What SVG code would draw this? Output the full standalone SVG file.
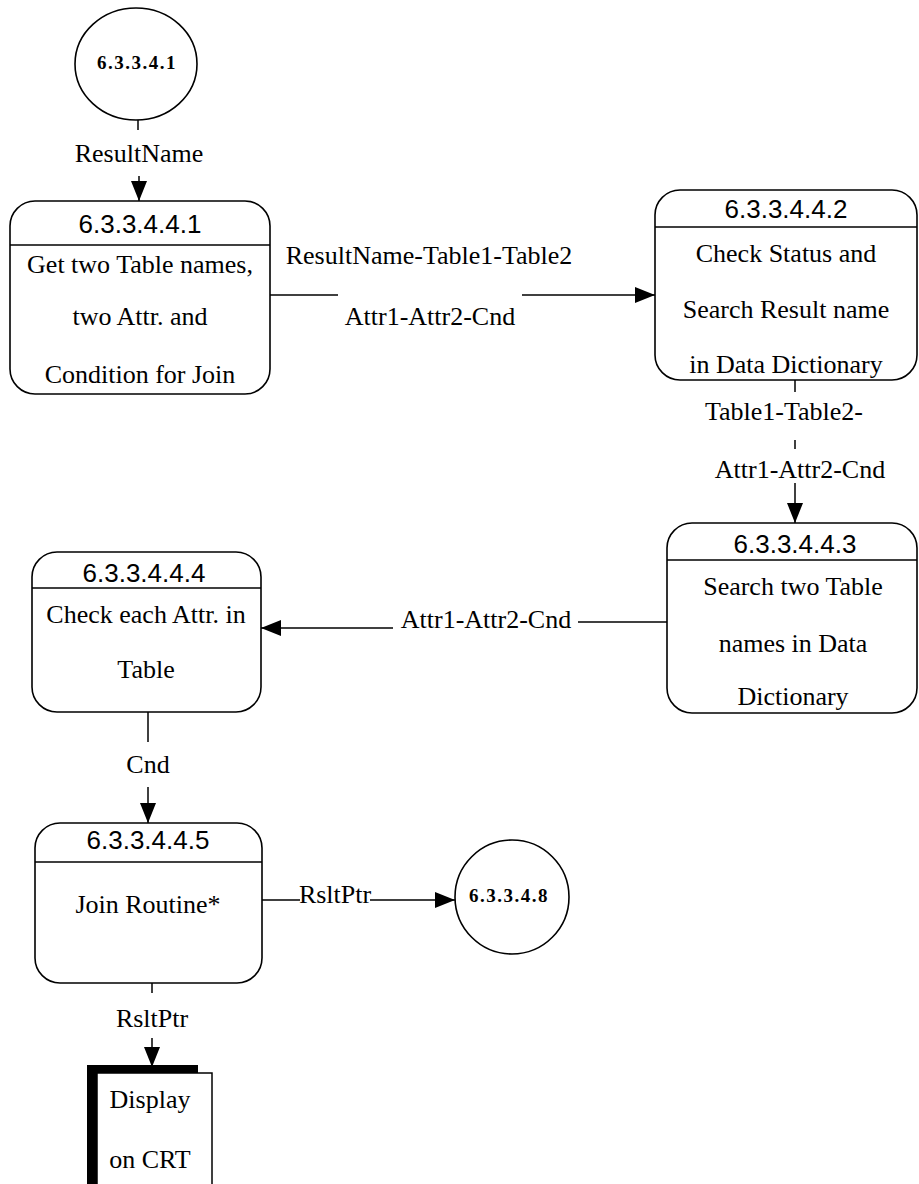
<svg xmlns="http://www.w3.org/2000/svg" width="919" height="1184" viewBox="0 0 919 1184">
<defs>
<style>
.box{fill:#fff;stroke:#000;stroke-width:1.6}
.ln{stroke:#000;stroke-width:1.5;fill:none}
.hd{font-family:"Liberation Sans",Arial,sans-serif;font-size:26px;text-anchor:middle;fill:#000}
.tx{font-family:"Liberation Serif","Times New Roman",serif;font-size:26px;text-anchor:middle;fill:#000}
.ct{font-family:"Liberation Serif","Times New Roman",serif;font-size:19px;font-weight:bold;letter-spacing:1.5px;text-anchor:middle;fill:#000}
</style>
<marker id="ah" markerUnits="userSpaceOnUse" markerWidth="22" markerHeight="18" refX="20" refY="8" orient="auto">
<path d="M0,0 L20,8 L0,16 z" fill="#000"/>
</marker>
</defs>
<rect width="919" height="1184" fill="#fff"/>

<g id="connectors">
<line class="ln" x1="138" y1="120" x2="138" y2="130"/>
<text class="tx" x="139" y="162">ResultName</text>
<line class="ln" x1="139" y1="176" x2="139" y2="201" marker-end="url(#ah)"/>

<line class="ln" x1="270" y1="295" x2="338" y2="295"/>
<line class="ln" x1="522" y1="295" x2="655" y2="295" marker-end="url(#ah)"/>
<text class="tx" x="429" y="264">ResultName-Table1-Table2</text>
<text class="tx" x="430" y="325">Attr1-Attr2-Cnd</text>

<line class="ln" x1="795" y1="380" x2="795" y2="392"/>
<text class="tx" x="784" y="420">Table1-Table2-</text>
<line class="ln" x1="795" y1="440" x2="795" y2="449"/>
<text class="tx" x="800" y="478">Attr1-Attr2-Cnd</text>
<line class="ln" x1="795" y1="483" x2="795" y2="523" marker-end="url(#ah)"/>

<line class="ln" x1="667" y1="622" x2="578" y2="622"/>
<text class="tx" x="486" y="628">Attr1-Attr2-Cnd</text>
<line class="ln" x1="393" y1="628" x2="261" y2="628" marker-end="url(#ah)"/>

<line class="ln" x1="148" y1="712" x2="148" y2="742"/>
<text class="tx" x="148" y="773">Cnd</text>
<line class="ln" x1="148" y1="787" x2="148" y2="823" marker-end="url(#ah)"/>

<line class="ln" x1="262" y1="900" x2="300" y2="900"/>
<text class="tx" x="335" y="903">RsltPtr</text>
<line class="ln" x1="370" y1="900" x2="455" y2="900" marker-end="url(#ah)"/>

<line class="ln" x1="152" y1="983" x2="152" y2="993"/>
<text class="tx" x="152" y="1027">RsltPtr</text>
<line class="ln" x1="152" y1="1038" x2="152" y2="1067" marker-end="url(#ah)"/>
</g>

<g id="circle-6.3.3.4.1">
<ellipse class="box" cx="136" cy="64" rx="61" ry="56"/>
<text class="ct" x="137" y="69">6.3.3.4.1</text>
</g>

<g id="node-6.3.3.4.4.1">
<rect class="box" x="10" y="201" width="260" height="193" rx="25" ry="25"/>
<line class="ln" x1="10" y1="245" x2="270" y2="245"/>
<text class="hd" x="140" y="233">6.3.3.4.4.1</text>
<text class="tx" x="140" y="273">Get two Table names,</text>
<text class="tx" x="140" y="325">two Attr. and</text>
<text class="tx" x="140" y="383">Condition for Join</text>
</g>

<g id="node-6.3.3.4.4.2">
<rect class="box" x="655" y="190" width="262" height="190" rx="25" ry="25"/>
<line class="ln" x1="655" y1="227" x2="917" y2="227"/>
<text class="hd" x="786" y="218">6.3.3.4.4.2</text>
<text class="tx" x="786" y="262">Check Status and</text>
<text class="tx" x="786" y="318">Search Result name</text>
<text class="tx" x="786" y="373">in Data Dictionary</text>
</g>

<g id="node-6.3.3.4.4.3">
<rect class="box" x="667" y="523" width="250" height="190" rx="25" ry="25"/>
<line class="ln" x1="667" y1="560" x2="917" y2="560"/>
<text class="hd" x="795" y="553">6.3.3.4.4.3</text>
<text class="tx" x="793" y="595">Search two Table</text>
<text class="tx" x="793" y="652">names in Data</text>
<text class="tx" x="793" y="705">Dictionary</text>
</g>

<g id="node-6.3.3.4.4.4">
<rect class="box" x="32" y="552" width="229" height="160" rx="25" ry="25"/>
<line class="ln" x1="32" y1="588" x2="261" y2="588"/>
<text class="hd" x="144" y="582">6.3.3.4.4.4</text>
<text class="tx" x="146" y="623">Check each Attr. in</text>
<text class="tx" x="146" y="678">Table</text>
</g>

<g id="node-6.3.3.4.4.5">
<rect class="box" x="35" y="823" width="227" height="160" rx="25" ry="25"/>
<line class="ln" x1="35" y1="862" x2="262" y2="862"/>
<text class="hd" x="148" y="849">6.3.3.4.4.5</text>
<text class="tx" x="148" y="913">Join Routine*</text>
</g>

<g id="circle-6.3.3.4.8">
<circle class="box" cx="512" cy="897" r="57"/>
<text class="ct" x="509" y="902">6.3.3.4.8</text>
</g>

<g id="store-display">
<rect x="97" y="1073" width="115" height="130" fill="#fff" stroke="#000" stroke-width="1.5"/>
<rect x="87" y="1065" width="111" height="8" fill="#000"/>
<rect x="87" y="1065" width="10" height="130" fill="#000"/>
<text class="tx" x="150" y="1108">Display</text>
<text class="tx" x="150" y="1168">on CRT</text>
</g>
</svg>
